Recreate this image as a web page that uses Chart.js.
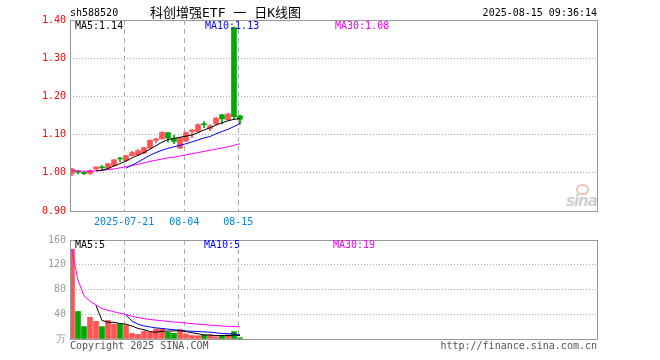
<!DOCTYPE html>
<html>
<head>
<meta charset="utf-8">
<script src="https://cdn.jsdelivr.net/npm/chart.js@4.4.0/dist/chart.umd.min.js"></script>
<style>
body { margin: 0; background: #fff; width: 660px; height: 360px; position: relative; overflow: hidden;
       font-family: "DejaVu Sans Mono", monospace; font-size: 10px; }
.t { position: absolute; white-space: nowrap; line-height: 12px; }
#kline { position: absolute; left: 0; top: 0; }
#vol { position: absolute; left: 0; top: 230px; }
.logo { position: absolute; left: 566px; top: 192px; font: italic bold 15px "DejaVu Sans", sans-serif; color: #cfcfcf; letter-spacing: -1px; }
.eye { position: absolute; left: 576px; top: 184px; width: 9px; height: 7px; border: 2px solid #f3c0b8; border-radius: 6px; }
</style>
</head>
<body>
<canvas id="kline" width="660" height="230"></canvas>
<canvas id="vol" width="660" height="130"></canvas>

<div class="t" style="left:70px;top:7px;color:#000">sh588520</div>
<div class="t" style="left:150px;top:5px;line-height:16px;font-size:13px;font-family:'DejaVu Sans Mono','Noto Sans CJK SC';color:#000">科创增强ETF 一 日K线图</div>
<div class="t" style="right:63px;top:7px;color:#000">2025-08-15 09:36:14</div>
<div class="t" style="left:75px;top:20px;color:#000">MA5:1.14</div>
<div class="t" style="left:205px;top:20px;color:#0000ff">MA10:1.13</div>
<div class="t" style="left:335px;top:20px;color:#ee00ee">MA30:1.08</div>
<div class="t" style="left:75px;top:239px;color:#000">MA5:5</div>
<div class="t" style="left:204px;top:239px;color:#0000ff">MA10:5</div>
<div class="t" style="left:333px;top:239px;color:#ee00ee">MA30:19</div>
<div class="t" style="left:70px;top:340px;color:#555">Copyright 2025 SINA.COM</div>
<div class="t" style="right:63px;top:340px;color:#555">http://finance.sina.com.cn</div>
<div class="eye"></div>
<div class="logo">sina</div>

<script>
var dates = ['2025-07-08','2025-07-09','2025-07-10','2025-07-11','2025-07-14','2025-07-15','2025-07-16',
  '2025-07-17','2025-07-18','2025-07-21','2025-07-22','2025-07-23','2025-07-24','2025-07-25','2025-07-28',
  '2025-07-29','2025-07-30','2025-07-31','2025-08-01','2025-08-04','2025-08-05','2025-08-06','2025-08-07',
  '2025-08-08','2025-08-11','2025-08-12','2025-08-13','2025-08-14','2025-08-15'];
var tickDays = ['2025-07-21', '2025-08-04', '2025-08-15'];
var tickLabels = ['2025-07-21', '08-04', '08-15'];

var open  = [0.998, 1.004, 1.001, 0.998, 1.010, 1.015, 1.012, 1.019, 1.038, 1.032, 1.045, 1.047, 1.052, 1.065, 1.085,
             1.089, 1.105, 1.090, 1.065, 1.083, 1.108, 1.108, 1.128, 1.116, 1.128, 1.152, 1.139, 1.380, 1.149];
var close = [1.010, 1.002, 0.998, 1.006, 1.015, 1.013, 1.024, 1.034, 1.036, 1.045, 1.053, 1.058, 1.066, 1.085, 1.089,
             1.106, 1.091, 1.082, 1.092, 1.105, 1.112, 1.126, 1.126, 1.123, 1.143, 1.141, 1.154, 1.147, 1.140];
var high  = [1.012, 1.006, 1.002, 1.008, 1.016, 1.019, 1.025, 1.035, 1.041, 1.046, 1.056, 1.061, 1.067, 1.086, 1.090,
             1.107, 1.106, 1.098, 1.093, 1.107, 1.113, 1.128, 1.134, 1.126, 1.145, 1.153, 1.156, 1.382, 1.151];
var low   = [0.992, 0.997, 0.995, 0.996, 1.008, 1.008, 1.010, 1.017, 1.029, 1.030, 1.044, 1.046, 1.050, 1.063, 1.078,
             1.088, 1.080, 1.076, 1.063, 1.082, 1.092, 1.106, 1.118, 1.110, 1.126, 1.128, 1.137, 1.140, 1.127];

// moving averages
var ma5  = [null, null, null, null, 1.005, 1.007, 1.011, 1.018, 1.024, 1.031, 1.039, 1.046, 1.053, 1.062, 1.071,
            1.080, 1.087, 1.090, 1.093, 1.096, 1.099, 1.105, 1.112, 1.118, 1.125, 1.131, 1.136, 1.140, 1.142];
var ma10 = [null, null, null, null, null, null, null, null, null, 1.012, 1.020, 1.028, 1.037, 1.046, 1.053,
            1.059, 1.064, 1.068, 1.072, 1.076, 1.081, 1.086, 1.091, 1.095, 1.102, 1.108, 1.114, 1.121, 1.129];
var ma30 = [1.006, 1.005, 1.004, 1.004, 1.005, 1.006, 1.008, 1.010, 1.013, 1.016, 1.019, 1.022, 1.026, 1.030, 1.033,
            1.036, 1.039, 1.041, 1.044, 1.047, 1.050, 1.053, 1.056, 1.059, 1.062, 1.065, 1.068, 1.072, 1.076];

// volume, 万
var volume = [145, 44.5, 20, 35, 28.5, 20, 30, 24, 24.5, 22, 9, 7.5, 12.5, 11, 16.3,
              16.3, 11, 9.2, 15.3, 8, 5.6, 5.3, 6.7, 6.7, 3.5, 5.6, 6.7, 12, 2];
var volMa5  = [null, null, null, null, 54, 30, 27, 27, 25, 24, 21, 17, 15, 12, 11,
               12.5, 13, 13, 13.5, 12, 10, 8.5, 6.5, 6.5, 5.5, 5.5, 5.5, 6.5, 5.5];
var volMa10 = [null, null, null, null, null, null, null, null, null, 39, 29, 24, 21, 19.5, 18,
               17, 16, 15, 14, 13, 12.5, 12, 11.5, 11, 10, 9, 8.5, 8, 7];
var volMa30 = [145, 95, 70, 61, 55, 49, 46.5, 44, 41.5, 39.5, 37, 34.5, 33, 31.5, 30.5,
               29.5, 28.5, 27.5, 26.8, 25.8, 24.8, 24, 23.2, 22.5, 21.8, 21, 20.5, 20.2, 19.5];

var RED = '#ff5555', GREEN = '#00a800';
var colors = close.map(function (c, i) { return c >= open[i] ? RED : GREEN; });

function pts(arr) {
  return arr.map(function (v, i) { return { x: i, y: v }; });
}
function maLine(arr, color) {
  return { type: 'line', data: pts(arr), borderColor: color, borderWidth: 1, pointRadius: 0, order: 0, spanGaps: false };
}

Chart.defaults.font.family = '"DejaVu Sans Mono", monospace';
Chart.defaults.font.size = 10;

var frame = {
  id: 'frame',
  afterDraw: function (chart) {
    var a = chart.chartArea, ctx = chart.ctx;
    ctx.save();
    ctx.strokeStyle = '#999';
    ctx.lineWidth = 1;
    ctx.strokeRect(Math.round(a.left) + 0.5, Math.round(a.top) + 0.5, Math.round(a.right - a.left), Math.round(a.bottom - a.top));
    ctx.restore();
  }
};

function xScale(showLabels, height) {
  return {
    type: 'linear', min: -0.33, max: 87.5, bounds: 'data', offset: false,
    afterBuildTicks: function (s) {
      s.ticks = tickDays.map(function (d) { return { value: dates.indexOf(d) - 0.3 }; });
    },
    afterFit: function (s) { s.height = height; },
    ticks: {
      display: showLabels, autoSkip: false, maxRotation: 0, padding: 5, color: '#0088dd',
      callback: function (v, i) { return tickLabels[i]; }
    },
    grid: { color: '#aaa', lineWidth: 1, drawTicks: false, offset: false },
    border: { display: false, dash: [5, 4] }
  };
}

new Chart(document.getElementById('kline').getContext('2d'), {
  type: 'bar',
  data: {
    datasets: [
      maLine(ma5, '#000000'),
      maLine(ma10, '#0000ff'),
      maLine(ma30, '#ff00ff'),
      { // candle bodies
        data: open.map(function (o, i) { return { x: i, y: [o, close[i]] }; }),
        backgroundColor: colors, barThickness: 5, minBarLength: 1, grouped: false, order: 1
      },
      { // wicks
        data: low.map(function (l, i) { return { x: i, y: [l, high[i]] }; }),
        backgroundColor: colors, barThickness: 1, grouped: false, order: 2
      }
    ]
  },
  options: {
    responsive: false, animation: false,
    layout: { padding: { left: 0, right: 63, top: 20, bottom: 0 } },
    plugins: { legend: { display: false }, tooltip: { enabled: false } },
    scales: {
      x: xScale(true, 19),
      y: {
        min: 0.9, max: 1.4, bounds: 'data',
        afterFit: function (s) { s.width = 70; },
        ticks: { stepSize: 0.1, padding: 4, color: '#ff0000', callback: function (v) { return v.toFixed(2); } },
        grid: { color: '#aaa', drawTicks: false },
        border: { display: false, dash: [1, 2] }
      }
    }
  },
  plugins: [frame]
});

new Chart(document.getElementById('vol').getContext('2d'), {
  type: 'bar',
  data: {
    datasets: [
      maLine(volMa5, '#000000'),
      maLine(volMa10, '#0000ff'),
      maLine(volMa30, '#ff00ff'),
      {
        data: pts(volume),
        backgroundColor: colors, barThickness: 5, grouped: false, order: 1
      }
    ]
  },
  options: {
    responsive: false, animation: false,
    layout: { padding: { left: 0, right: 63, top: 10, bottom: 0 } },
    plugins: { legend: { display: false }, tooltip: { enabled: false } },
    scales: {
      x: xScale(false, 21),
      y: {
        min: 0, max: 160, bounds: 'data',
        afterFit: function (s) { s.width = 70; },
        ticks: { stepSize: 40, padding: 4, color: '#999', callback: function (v) { return v === 0 ? '万' : v; } },
        grid: { color: '#aaa', drawTicks: false },
        border: { display: false, dash: [1, 2] }
      }
    }
  },
  plugins: [frame]
});
</script>
</body>
</html>
